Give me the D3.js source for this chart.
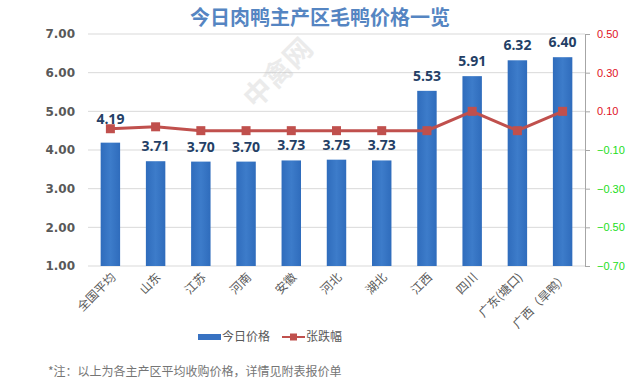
<!DOCTYPE html>
<html lang="zh">
<head>
<meta charset="UTF-8">
<title>今日肉鸭主产区毛鸭价格一览</title>
<style>
    body { margin: 0; background: #fff; }
    svg { display: block; font-family: "Noto Sans CJK SC", "Microsoft YaHei", sans-serif; }
    .grid line { stroke: #d9d9d9; }
</style>
</head>
<body>
<svg id="chart" width="641" height="385"></svg>
<script src="https://cdn.jsdelivr.net/npm/d3@7"></script>
<script>
    const regions = ["全国平均", "山东", "江苏", "河南", "安徽", "河北", "湖北", "江西", "四川", "广东(塘口)", "广西（旱鸭）"];
    const prices = [4.19, 3.71, 3.70, 3.70, 3.73, 3.75, 3.73, 5.53, 5.91, 6.32, 6.40];
    const changes = [0.01, 0.02, 0, 0, 0, 0, 0, 0, 0.10, 0, 0.10];
    const leftTicks = [1, 2, 3, 4, 5, 6, 7];
    const rightTicks = [0.5, 0.3, 0.1, -0.1, -0.3, -0.5, -0.7];

    const svg = d3.select("#chart");
    const plotLeft = 88, plotRight = 585, plotTop = 34, plotBottom = 266;

    const x = d3.scaleBand().domain(regions).range([plotLeft, plotRight]).paddingInner(0.57).paddingOuter(0.28);
    const y = d3.scaleLinear().domain([1, 7]).range([plotBottom, plotTop]);
    const y2 = d3.scaleLinear().domain([-0.7, 0.5]).range([plotBottom, plotTop]);

    // title
    svg.append("text")
        .attr("x", 320).attr("y", 25)
        .attr("text-anchor", "middle")
        .attr("font-size", 20).attr("font-weight", "bold")
        .attr("fill", "#5585c2")
        .text("今日肉鸭主产区毛鸭价格一览");

    // gridlines
    svg.append("g").attr("class", "grid")
        .selectAll("line").data(leftTicks).enter().append("line")
        .attr("x1", plotLeft).attr("x2", plotRight)
        .attr("y1", d => y(d)).attr("y2", d => y(d));

    // left axis
    svg.append("g")
        .attr("transform", `translate(${plotLeft},0)`)
        .call(d3.axisLeft(y).tickValues(leftTicks).tickFormat(d3.format(".2f")).tickSize(0).tickPadding(13))
        .call(g => g.select(".domain").remove())
        .call(g => g.selectAll("text").attr("fill", "#595959").attr("font-size", 12)
            .attr("font-family", "'DejaVu Sans', sans-serif").attr("font-weight", "bold"));

    // right axis
    svg.append("g")
        .attr("transform", `translate(${plotRight},0)`)
        .call(d3.axisRight(y2).tickValues(rightTicks).tickFormat(d3.format(".2f")).tickSize(5).tickPadding(7))
        .call(g => g.select(".domain").attr("stroke", "#a6a6a6"))
        .call(g => g.selectAll("line").attr("stroke", "#a6a6a6"))
        .call(g => g.selectAll("text")
            .attr("font-size", 11)
            .attr("font-family", "'Liberation Sans', Arial, sans-serif")
            .attr("fill", d => d > 0 ? "#e0101e" : "#22dd22"));

    // watermark
    svg.append("text")
        .attr("transform", "translate(285,80) rotate(-45)")
        .attr("text-anchor", "middle")
        .attr("font-size", 28).attr("font-weight", "bold")
        .attr("fill", "#c8c8c8").attr("opacity", 0.35)
        .text("中禽网");

    // bars
    const grad = svg.append("defs").append("linearGradient").attr("id", "barGrad")
        .attr("x1", 0).attr("x2", 1).attr("y1", 0).attr("y2", 0);
    grad.append("stop").attr("offset", "0%").attr("stop-color", "#2f6cbc");
    grad.append("stop").attr("offset", "50%").attr("stop-color", "#3d7cca");
    grad.append("stop").attr("offset", "100%").attr("stop-color", "#2f6cbc");

    svg.append("g").selectAll("rect").data(prices).enter().append("rect")
        .attr("x", (d, i) => x(regions[i]))
        .attr("width", x.bandwidth())
        .attr("y", d => y(d))
        .attr("height", d => y(1) - y(d))
        .attr("fill", "url(#barGrad)");

    // change line
    const line = d3.line()
        .x((d, i) => x(regions[i]) + x.bandwidth() / 2)
        .y(d => y2(d));

    svg.append("path").datum(changes)
        .attr("d", line)
        .attr("fill", "none")
        .attr("stroke", "#c0504d")
        .attr("stroke-width", 3);

    svg.append("g").selectAll("rect").data(changes).enter().append("rect")
        .attr("x", (d, i) => x(regions[i]) + x.bandwidth() / 2 - 4.5)
        .attr("y", d => y2(d) - 4.5)
        .attr("width", 9).attr("height", 9)
        .attr("fill", "#c0504d");

    // bar labels
    svg.append("g").selectAll("text").data(prices).enter().append("text")
        .attr("x", (d, i) => x(regions[i]) + x.bandwidth() / 2)
        .attr("y", (d, i) => y(d) - (i === 0 ? 19 : 10))
        .attr("text-anchor", "middle")
        .attr("font-size", 14).attr("font-weight", "bold")
        .attr("font-family", "'Open Sans', 'Liberation Sans', sans-serif")
        .attr("fill", "#243f66")
        .text(d => d.toFixed(2));

    // x labels
    svg.append("g").selectAll("text").data(regions).enter().append("text")
        .attr("transform", d => `translate(${x(d) + x.bandwidth() / 2 + 6},${plotBottom + 12}) rotate(-45)`)
        .attr("text-anchor", "end")
        .attr("font-size", 12)
        .attr("fill", "#595959")
        .text(d => d);

    // legend
    const lg = svg.append("g").attr("transform", "translate(198,337)");
    lg.append("rect").attr("x", 0).attr("y", -3).attr("width", 23).attr("height", 6).attr("fill", "#3872c2");
    lg.append("text").attr("x", 24).attr("y", 4).attr("font-size", 12).attr("fill", "#595959").text("今日价格");
    lg.append("line").attr("x1", 84).attr("x2", 107).attr("y1", 0).attr("y2", 0)
        .attr("stroke", "#c0504d").attr("stroke-width", 2);
    lg.append("rect").attr("x", 92).attr("y", -3.5).attr("width", 7).attr("height", 7).attr("fill", "#c0504d");
    lg.append("text").attr("x", 108).attr("y", 4).attr("font-size", 12).attr("fill", "#595959").text("张跌幅");

    // footnote
    svg.append("text")
        .attr("x", 48).attr("y", 376)
        .attr("font-size", 12)
        .attr("fill", "#757575")
        .text("*注：以上为各主产区平均收购价格，详情见附表报价单");
</script>
</body>
</html>
